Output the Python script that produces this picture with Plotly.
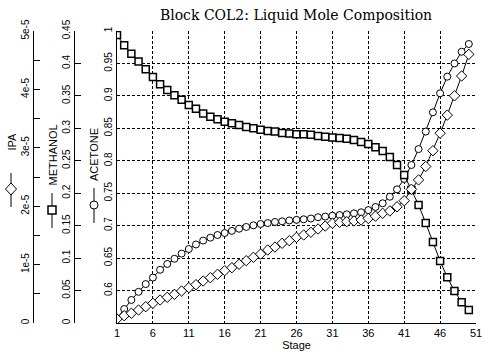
import plotly.graph_objects as go

# ---------------- data ----------------
stages = list(range(1, 51))

acetone = [0.557, 0.5716, 0.5855, 0.598, 0.610, 0.620, 0.632, 0.641, 0.649, 0.657,
           0.664, 0.671, 0.677, 0.6815, 0.6856, 0.6887, 0.692, 0.6953, 0.698, 0.7005,
           0.7026, 0.704, 0.7057, 0.7067, 0.708, 0.709, 0.7098, 0.711, 0.713, 0.714,
           0.7154, 0.7164, 0.7175, 0.719, 0.7206, 0.724, 0.7288, 0.7345, 0.7446, 0.756,
           0.772, 0.7935, 0.818, 0.845, 0.8747, 0.904, 0.9296, 0.950, 0.968, 0.980]

methanol = [0.444, 0.428, 0.415, 0.403, 0.391, 0.379, 0.368, 0.359, 0.351, 0.344,
            0.336, 0.330, 0.323, 0.318, 0.314, 0.310, 0.308, 0.305, 0.302, 0.300,
            0.298, 0.296, 0.295, 0.293, 0.292, 0.291, 0.291, 0.290, 0.288, 0.287,
            0.286, 0.285, 0.284, 0.282, 0.279, 0.276, 0.271, 0.265, 0.256, 0.2435,
            0.228, 0.205, 0.182, 0.154, 0.125, 0.0955, 0.0704, 0.0493, 0.0319, 0.020]

ipa = [0.068e-5, 0.125e-5, 0.166e-5, 0.223e-5, 0.279e-5, 0.337e-5, 0.394e-5, 0.44e-5, 0.491e-5, 0.548e-5,
       0.605e-5, 0.656e-5, 0.719e-5, 0.776e-5, 0.834e-5, 0.896e-5, 0.947e-5, 1.005e-5, 1.067e-5, 1.125e-5,
       1.18e-5, 1.25e-5, 1.30e-5, 1.365e-5, 1.41e-5, 1.467e-5, 1.507e-5, 1.553e-5, 1.61e-5, 1.66e-5,
       1.707e-5, 1.724e-5, 1.735e-5, 1.747e-5, 1.764e-5, 1.79e-5, 1.83e-5, 1.878e-5, 1.918e-5, 1.99e-5,
       2.094e-5, 2.29e-5, 2.45e-5, 2.68e-5, 2.95e-5, 3.25e-5, 3.56e-5, 3.89e-5, 4.23e-5, 4.60e-5]

x_ticks = [1, 6, 11, 16, 21, 26, 31, 36, 41, 46, 51]
acetone_ticks = [0.6, 0.65, 0.7, 0.75, 0.8, 0.85, 0.9, 0.95, 1.0]
acetone_ticktext = ["0.6", "0.65", "0.7", "0.75", "0.8", "0.85", "0.9", "0.95", "1"]
methanol_ticks = [0, 0.05, 0.1, 0.15, 0.2, 0.25, 0.3, 0.35, 0.4, 0.45]
methanol_ticktext = ["0", "0.05", "0.1", "0.15", "0.2", "0.25", "0.3", "0.35", "0.4", "0.45"]
ipa_ticks = [0, 1e-5, 2e-5, 3e-5, 4e-5, 5e-5]
ipa_ticktext = ["0", "1e-5", "2e-5", "3e-5", "4e-5", "5e-5"]

title_text = "Block COL2: Liquid Mole Composition"

# ---------------- layout geometry ----------------
W, H = 488, 358
ML, MR, MT, MB = 0, 12, 31, 35
PW = W - ML - MR
PH = H - MT - MB


def px(xp):
    return (xp - ML) / PW


def py(yp):
    return (H - MB - yp) / PH


TICKFONT = dict(family="Liberation Sans", size=10, color="black")
GRID = dict(showgrid=True, gridcolor="black", gridwidth=1, griddash="3px,2px")

fig = go.Figure()

fig.add_trace(go.Scatter(
    x=stages, y=acetone, yaxis="y", mode="lines+markers", name="ACETONE",
    line=dict(color="black", width=1),
    marker=dict(symbol="circle", size=7, color="white", line=dict(color="black", width=1))))

fig.add_trace(go.Scatter(
    x=stages, y=ipa, yaxis="y3", mode="lines+markers", name="IPA",
    line=dict(color="black", width=1),
    marker=dict(symbol="diamond", size=8, color="white", line=dict(color="black", width=1))))

fig.add_trace(go.Scatter(
    x=stages, y=methanol, yaxis="y2", mode="lines+markers", name="METHANOL",
    line=dict(color="black", width=1),
    marker=dict(symbol="square", size=7, color="white", line=dict(color="black", width=1.5))))

fig.update_layout(
    width=W, height=H,
    margin=dict(l=ML, r=MR, t=MT, b=MB),
    paper_bgcolor="white", plot_bgcolor="white",
    showlegend=False,
    font=dict(family="Liberation Sans", size=10, color="black"),
    title=dict(text=title_text, x=296 / W, xref="container", xanchor="center",
               y=1 - 15 / H, yref="container", yanchor="middle",
               font=dict(family="DejaVu Serif", size=14, color="black")),
    xaxis=dict(domain=[px(117), 1], range=[1, 51], tickmode="array", tickvals=x_ticks,
               showline=True, linecolor="black", linewidth=1, ticks="", zeroline=False,
               automargin=False,
               tickfont=dict(family="Liberation Sans", size=11, color="black"),
               title=dict(text="Stage", standoff=2,
                          font=dict(family="Liberation Sans", size=11, color="black")),
               **GRID),
    yaxis=dict(range=[0.55, 1.0], tickmode="array", tickvals=acetone_ticks,
               ticktext=acetone_ticktext, tickangle=-90, tickfont=TICKFONT,
               showline=True, linecolor="black", linewidth=1, ticks="", zeroline=False,
               automargin=False,
               **GRID),
    yaxis2=dict(overlaying="y", anchor="free", position=px(73.5), side="left",
                range=[0, 0.45], tickmode="array", tickvals=methanol_ticks,
                ticktext=methanol_ticktext, tickangle=-90, tickfont=TICKFONT,
                showline=True, linecolor="black", linewidth=1,
                ticks="inside", ticklen=6, tickcolor="black", automargin=False,
                showgrid=False, zeroline=False),
    yaxis3=dict(overlaying="y", anchor="free", position=px(32.5), side="left",
                range=[0, 5e-5], tickmode="array", tickvals=ipa_ticks,
                ticktext=ipa_ticktext, tickangle=-90, tickfont=TICKFONT,
                showline=True, linecolor="black", linewidth=1,
                ticks="inside", ticklen=6, tickcolor="black", automargin=False,
                minor=dict(dtick=0.5e-5, ticks="inside", ticklen=6, tickcolor="black"),
                showgrid=False, zeroline=False),
)

# axis legends (rotated text + line/marker keys)
labels = [("IPA", 11, 141.5), ("METHANOL", 52, 155.5), ("ACETONE", 94, 155)]
for txt, xc, yc in labels:
    fig.add_annotation(text=txt, x=px(xc), y=py(yc), xref="paper", yref="paper",
                       textangle=-90, showarrow=False, xanchor="center", yanchor="middle",
                       font=dict(family="Liberation Sans", size=11, color="black"))

shapes = []
# IPA key
shapes.append(dict(type="line", xref="paper", yref="paper", x0=px(11), x1=px(11),
                   y0=py(173), y1=py(207), line=dict(color="black", width=1)))
shapes.append(dict(type="path", xref="paper", yref="paper",
                   path=f"M {px(11)},{py(183)} L {px(16.5)},{py(189)} L {px(11)},{py(195)} L {px(5.5)},{py(189)} Z",
                   fillcolor="white", line=dict(color="black", width=1)))
# METHANOL key
shapes.append(dict(type="line", xref="paper", yref="paper", x0=px(52), x1=px(52),
                   y0=py(193), y1=py(228), line=dict(color="black", width=1)))
shapes.append(dict(type="rect", xref="paper", yref="paper", x0=px(48), x1=px(56),
                   y0=py(206), y1=py(214), fillcolor="white", line=dict(color="black", width=1.5)))
# ACETONE key
shapes.append(dict(type="line", xref="paper", yref="paper", x0=px(94), x1=px(94),
                   y0=py(188), y1=py(223), line=dict(color="black", width=1)))
shapes.append(dict(type="circle", xref="paper", yref="paper", x0=px(90), x1=px(98),
                   y0=py(201), y1=py(209), fillcolor="white", line=dict(color="black", width=1)))
fig.update_layout(shapes=shapes)

fig.write_html("out.html", config={"displayModeBar": False},
               post_script="document.body.style.margin='0';")
